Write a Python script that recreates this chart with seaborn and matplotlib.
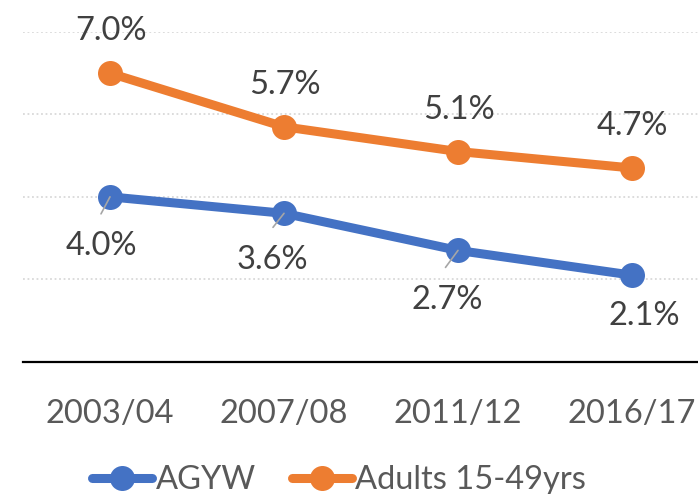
import matplotlib
matplotlib.use("Agg")
import matplotlib.pyplot as plt
import seaborn as sns
import pandas as pd

# Data
periods = ["2003/04", "2007/08", "2011/12", "2016/17"]
agyw = [4.0, 3.6, 2.7, 2.1]
adults = [7.0, 5.7, 5.1, 4.7]
series_names = ["AGYW", "Adults 15-49yrs"]

# label offsets in pixels (x, baseline y) relative to each marker
agyw_offsets = [(-9, -58), (-11.5, -56), (-11, -59), (12, -50)]
adults_offsets = [(1, 33), (0.5, 33), (0.5, 33), (0, 33)]
# short grey leader lines on the lower labels
leaders = [(-9, -17), (-11, -14), (-12.5, -17), None]

colors = ["#4472C4", "#ED7D31"]

df = pd.DataFrame({
    "period": periods * 2,
    "value": agyw + adults,
    "series": [series_names[0]] * len(periods) + [series_names[1]] * len(periods),
})

sns.set_style("white")
plt.rcParams["font.family"] = ["Lato", "DejaVu Sans"]

fig = plt.figure(figsize=(6.98, 4.94), dpi=100)
ax = fig.add_axes([23 / 698, 132.3 / 494, 696 / 698, 329.7 / 494])

sns.lineplot(data=df, x="period", y="value", hue="series", palette=colors,
             marker="o", markersize=18, markeredgewidth=0, linewidth=6.5,
             sort=False, ax=ax)

ax.set_xlim(-0.5, 3.5)
ax.set_ylim(0, 8)
ax.set_yticks([2, 4, 6, 8])
ax.set_yticklabels([])
ax.grid(axis="y", color="#D9D9D9", linestyle=(0, (1, 1.5)), linewidth=1.3)
ax.grid(axis="x", visible=False)
ax.tick_params(axis="both", length=0)
ax.tick_params(axis="x", labelsize=23.5, labelcolor="#595959", pad=27)
ax.set_xlabel("")
ax.set_ylabel("")
for s in ["top", "right", "left"]:
    ax.spines[s].set_visible(False)
ax.spines["bottom"].set_color("#000000")
ax.spines["bottom"].set_linewidth(1.6)

for i, v in enumerate(adults):
    dx, dy = adults_offsets[i]
    ax.annotate(f"{v:.1f}%", xy=(i, v), xytext=(dx, dy), textcoords="offset pixels",
                ha="center", va="baseline", fontsize=23.5, color="#404040")

for i, v in enumerate(agyw):
    dx, dy = agyw_offsets[i]
    ax.annotate(f"{v:.1f}%", xy=(i, v), xytext=(dx, dy), textcoords="offset pixels",
                ha="center", va="baseline", fontsize=23.5, color="#404040")
    if leaders[i] is not None:
        ax.annotate("", xy=(i, v), xytext=leaders[i], textcoords="offset pixels",
                    arrowprops=dict(arrowstyle="-", color="#A6A6A6", lw=1.2,
                                    shrinkA=0, shrinkB=0), zorder=5)

handles, labels = ax.get_legend_handles_labels()
ax.get_legend().remove()
fig.legend(handles, labels, loc="center", bbox_to_anchor=(339 / 698, 1 - 480 / 494),
           ncol=2, frameon=False, fontsize=23.5, labelcolor="#595959",
           handlelength=1.85, handletextpad=0.1, columnspacing=1.1,
           borderpad=0, borderaxespad=0)

fig.savefig("out.png", dpi=100)
